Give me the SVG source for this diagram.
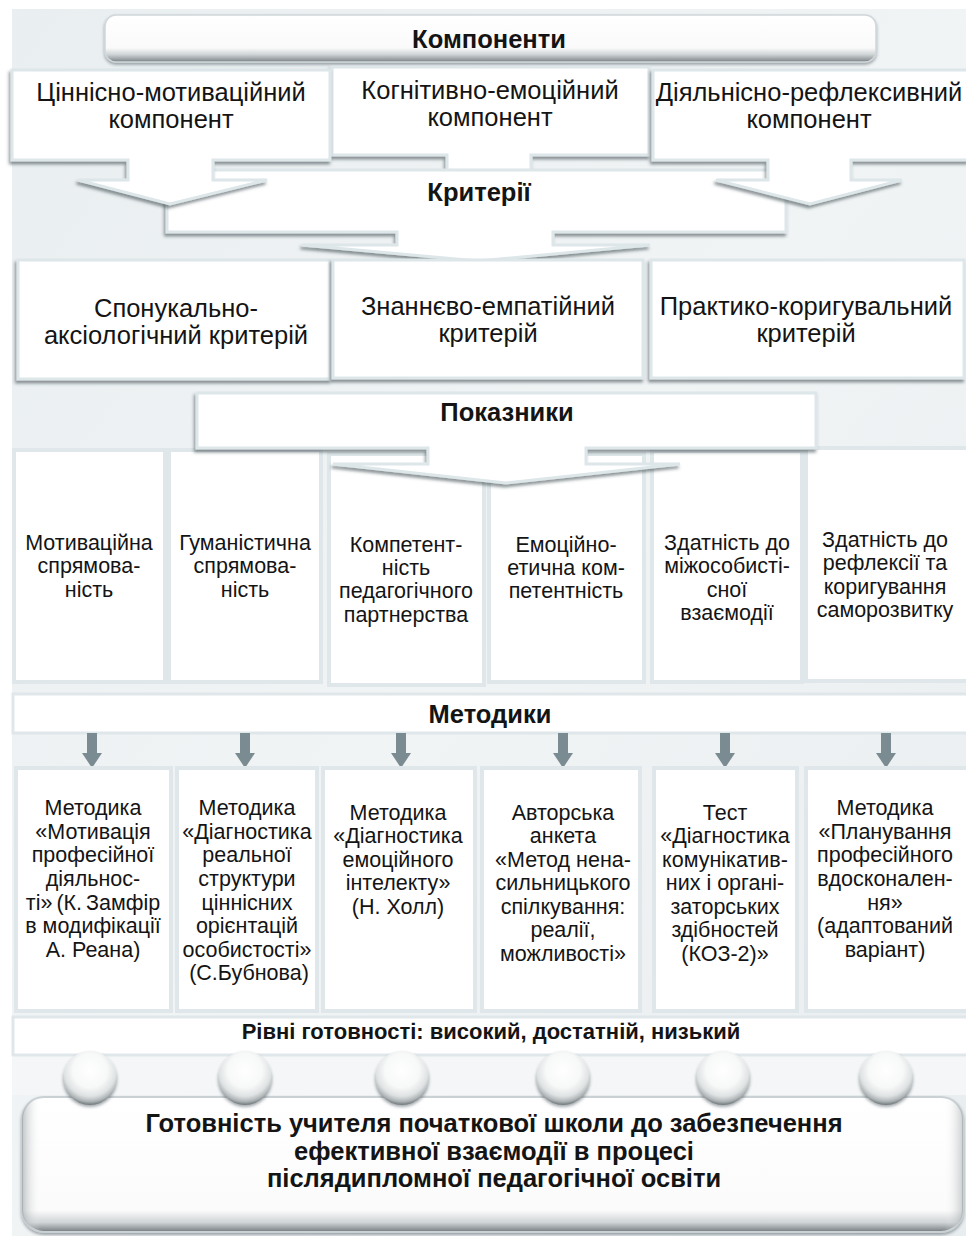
<svg xmlns="http://www.w3.org/2000/svg" width="966" height="1236" viewBox="0 0 966 1236">
<defs>
<linearGradient id="bg" x1="0" y1="0" x2="1" y2="1"><stop offset="0" stop-color="#e9eef0"/><stop offset="0.5" stop-color="#f1f4f5"/><stop offset="1" stop-color="#e8edef"/></linearGradient>
<linearGradient id="bar3d" x1="0" y1="0" x2="0" y2="1"><stop offset="0" stop-color="#ffffff"/><stop offset="0.7" stop-color="#fafafa"/><stop offset="0.84" stop-color="#cfd4d6"/><stop offset="1" stop-color="#7b8285"/></linearGradient>
<linearGradient id="big3d" x1="0" y1="0" x2="0" y2="1"><stop offset="0" stop-color="#ffffff"/><stop offset="0.84" stop-color="#fbfbfb"/><stop offset="0.93" stop-color="#cfd3d5"/><stop offset="1" stop-color="#747b7e"/></linearGradient>
<linearGradient id="bigL" x1="0" y1="0" x2="1" y2="0"><stop offset="0" stop-color="#8d9497" stop-opacity="0.55"/><stop offset="0.02" stop-color="#ffffff" stop-opacity="0"/><stop offset="0.98" stop-color="#ffffff" stop-opacity="0"/><stop offset="1" stop-color="#8d9497" stop-opacity="0.45"/></linearGradient>
<radialGradient id="ball" cx="0.5" cy="0.36" r="0.64"><stop offset="0" stop-color="#ffffff"/><stop offset="0.5" stop-color="#f7f8f8"/><stop offset="0.75" stop-color="#dfe2e3"/><stop offset="0.9" stop-color="#aeb4b6"/><stop offset="1" stop-color="#6f777a"/></radialGradient>
<filter id="sh" x="-10%" y="-10%" width="120%" height="130%"><feDropShadow dx="-1.5" dy="3" stdDeviation="1.6" flood-color="#34434a" flood-opacity="0.55"/></filter>
<filter id="sh2" x="-20%" y="-20%" width="140%" height="150%"><feDropShadow dx="0" dy="2" stdDeviation="1.5" flood-color="#34434a" flood-opacity="0.45"/></filter>
<marker id="ah" viewBox="0 0 15 20" refX="0" refY="10" markerWidth="15" markerHeight="20" markerUnits="userSpaceOnUse" orient="auto"><path d="M0,0 L15,10 L0,20 Z" fill="#7b8b92"/></marker>
</defs>
<style>
.box{fill:#ffffff;stroke:#dde6e9;stroke-width:3;filter:url(#sh)}
.cell{fill:#ffffff;stroke:#dfe7ea;stroke-width:4}
.bar{fill:#ffffff;stroke:#dfe7ea;stroke-width:3}
.t{font-family:"Liberation Sans",Arial,sans-serif;fill:#141414;text-anchor:middle}
.l{font-size:25.5px}
.s{font-size:21.5px}
.h{font-size:25.5px;font-weight:bold}
.conn{stroke:#7b8b92;stroke-width:10;fill:none}
</style>
<rect x="12" y="9" width="954" height="1227" fill="url(#bg)"/>
<rect x="12" y="1055" width="954" height="40" fill="#f4f6f7"/>

<g id="komponenty">
<rect x="105" y="15" width="771" height="47" rx="11" fill="url(#bar3d)" stroke="#cfd7da" stroke-width="1.5" filter="url(#sh2)"/>
<text class="t h" x="489" y="48">Компоненти</text>
</g>

<g id="comp2">
<path class="box" d="M332,67 H649 V155 H531 V175 H447 V155 H332 Z"/>
<text class="t l" x="490" y="99">Когнітивно-емоційний</text>
<text class="t l" x="490" y="126">компонент</text>
</g>

<g id="kryterii">
<path class="box" d="M167,170 H786 V232 H553 V245 H650 L478,261 L302,245 H397 V232 H167 Z"/>
<text class="t h" x="479" y="201">Критерії</text>
</g>

<g id="comp1">
<path class="box" d="M12,70 H330 V160 H213 V180 H267 L170,204 L78,180 H128 V160 H12 Z"/>
<text class="t l" x="171" y="101">Ціннісно-мотиваційний</text>
<text class="t l" x="171" y="128">компонент</text>
</g>

<g id="comp3">
<path class="box" d="M653,70 H968 V160 H851 V180 H902 L810,204 L716,180 H768 V160 H653 Z"/>
<text class="t l" x="809" y="101">Діяльнісно-рефлексивний</text>
<text class="t l" x="809" y="128">компонент</text>
</g>

<g id="crit1">
<rect class="box" x="18" y="260" width="312" height="119"/>
<text class="t l" x="176" y="317">Спонукально-</text>
<text class="t l" x="176" y="344">аксіологічний критерій</text>
</g>
<g id="crit2">
<rect class="box" x="333" y="260" width="310" height="118"/>
<text class="t l" x="488" y="315">Знаннєво-емпатійний</text>
<text class="t l" x="488" y="342">критерій</text>
</g>
<g id="crit3">
<rect class="box" x="651" y="260" width="313" height="118"/>
<text class="t l" x="806" y="315">Практико-коригувальний</text>
<text class="t l" x="806" y="342">критерій</text>
</g>

<g id="ind1">
<rect class="cell" x="14" y="450" width="151" height="232"/>
<text class="t s" x="89" y="550">Мотиваційна</text>
<text class="t s" x="89" y="573">спрямова-</text>
<text class="t s" x="89" y="597">ність</text>
</g>
<g id="ind2">
<rect class="cell" x="169" y="450" width="152" height="232"/>
<text class="t s" x="245" y="550">Гуманістична</text>
<text class="t s" x="245" y="573">спрямова-</text>
<text class="t s" x="245" y="597">ність</text>
</g>
<g id="ind3">
<rect class="cell" x="329" y="454" width="155" height="231"/>
<text class="t s" x="406" y="552">Компетент-</text>
<text class="t s" x="406" y="575">ність</text>
<text class="t s" x="406" y="598">педагогічного</text>
<text class="t s" x="406" y="622">партнерства</text>
</g>
<g id="ind4">
<rect class="cell" x="489" y="454" width="155" height="228"/>
<text class="t s" x="566" y="552">Емоційно-</text>
<text class="t s" x="566" y="575">етична ком-</text>
<text class="t s" x="566" y="598">петентність</text>
</g>
<g id="ind5">
<rect class="cell" x="652" y="451" width="150" height="231"/>
<text class="t s" x="727" y="550">Здатність до</text>
<text class="t s" x="727" y="573">міжособисті-</text>
<text class="t s" x="727" y="597">сної</text>
<text class="t s" x="727" y="620">взаємодії</text>
</g>
<g id="ind6">
<rect class="cell" x="806" y="448" width="162" height="233"/>
<text class="t s" x="885" y="547">Здатність до</text>
<text class="t s" x="885" y="570">рефлексії та</text>
<text class="t s" x="885" y="594">коригування</text>
<text class="t s" x="885" y="617">саморозвитку</text>
</g>

<g id="pokaznyky">
<path class="box" d="M197,393 H816 V448 H586 V464 H680 L506,483 L333,464 H428 V448 H197 Z"/>
<text class="t h" x="507" y="421">Показники</text>
</g>

<g id="metodyky">
<rect class="bar" x="13" y="694" width="955" height="39"/>
<text class="t h" x="490" y="723">Методики</text>
</g>

<g id="connectors">
<line class="conn" x1="92" y1="733" x2="92" y2="753" marker-end="url(#ah)"/>
<line class="conn" x1="245" y1="733" x2="245" y2="753" marker-end="url(#ah)"/>
<line class="conn" x1="401" y1="733" x2="401" y2="753" marker-end="url(#ah)"/>
<line class="conn" x1="563" y1="733" x2="563" y2="753" marker-end="url(#ah)"/>
<line class="conn" x1="725" y1="733" x2="725" y2="753" marker-end="url(#ah)"/>
<line class="conn" x1="886" y1="733" x2="886" y2="753" marker-end="url(#ah)"/>
</g>

<g id="met1">
<rect class="cell" x="16" y="768" width="155" height="243"/>
<text class="t s" x="93" y="815">Методика</text>
<text class="t s" x="93" y="839">«Мотивація</text>
<text class="t s" x="93" y="862">професійної</text>
<text class="t s" x="93" y="886">діяльнос-</text>
<text class="t s" x="93" y="910" style="word-spacing:-2px">ті» (К. Замфір</text>
<text class="t s" x="93" y="933">в модифікації</text>
<text class="t s" x="93" y="957">А. Реана)</text>
</g>
<g id="met2">
<rect class="cell" x="177" y="768" width="140" height="243"/>
<text class="t s" x="247" y="815">Методика</text>
<text class="t s" x="247" y="839">«Діагностика</text>
<text class="t s" x="247" y="862">реальної</text>
<text class="t s" x="247" y="886">структури</text>
<text class="t s" x="247" y="910">ціннісних</text>
<text class="t s" x="247" y="933">орієнтацій</text>
<text class="t s" x="247" y="957">особистості»</text>
<text class="t s" x="249" y="980">(С.Бубнова)</text>
</g>
<g id="met3">
<rect class="cell" x="323" y="768" width="152" height="243"/>
<text class="t s" x="398" y="820">Методика</text>
<text class="t s" x="398" y="843">«Діагностика</text>
<text class="t s" x="398" y="867">емоційного</text>
<text class="t s" x="398" y="890">інтелекту»</text>
<text class="t s" x="398" y="914">(Н. Холл)</text>
</g>
<g id="met4">
<rect class="cell" x="482" y="768" width="158" height="243"/>
<text class="t s" x="563" y="820">Авторська</text>
<text class="t s" x="563" y="843">анкета</text>
<text class="t s" x="563" y="867">«Метод нена-</text>
<text class="t s" x="563" y="890">сильницького</text>
<text class="t s" x="563" y="914">спілкування:</text>
<text class="t s" x="563" y="937">реалії,</text>
<text class="t s" x="563" y="961">можливості»</text>
</g>
<g id="met5">
<rect class="cell" x="654" y="768" width="143" height="243"/>
<text class="t s" x="725" y="820">Тест</text>
<text class="t s" x="725" y="843">«Діагностика</text>
<text class="t s" x="725" y="867">комунікатив-</text>
<text class="t s" x="725" y="890">них і органі-</text>
<text class="t s" x="725" y="914">заторських</text>
<text class="t s" x="725" y="937">здібностей</text>
<text class="t s" x="725" y="961">(КОЗ-2)»</text>
</g>
<g id="met6">
<rect class="cell" x="806" y="768" width="162" height="243"/>
<text class="t s" x="885" y="815">Методика</text>
<text class="t s" x="885" y="839">«Планування</text>
<text class="t s" x="885" y="862">професійного</text>
<text class="t s" x="885" y="886">вдосконален-</text>
<text class="t s" x="885" y="910">ня»</text>
<text class="t s" x="885" y="933">(адаптований</text>
<text class="t s" x="885" y="957">варіант)</text>
</g>

<g id="rivni">
<rect class="bar" x="13" y="1017" width="955" height="38"/>
<text class="t" x="491" y="1039" style="font-size:22px;font-weight:bold">Рівні готовності: високий, достатній, низький</text>
</g>

<g id="gotovnist">
<rect x="22" y="1097" width="941" height="135" rx="22" fill="url(#big3d)" stroke="#c9d1d4" stroke-width="2" filter="url(#sh2)"/>
<rect x="22" y="1097" width="941" height="135" rx="22" fill="url(#bigL)"/>
<text class="t" x="494" y="1132" style="font-size:25.5px;font-weight:bold">Готовність учителя початкової школи до забезпечення</text>
<text class="t" x="494" y="1160" style="font-size:25.5px;font-weight:bold">ефективної взаємодії в процесі</text>
<text class="t" x="494" y="1187" style="font-size:25.5px;font-weight:bold">післядипломної педагогічної освіти</text>
</g>

<g id="levels">
<circle cx="90" cy="1078" r="27" fill="url(#ball)" filter="url(#sh2)"/>
<circle cx="245" cy="1078" r="27" fill="url(#ball)" filter="url(#sh2)"/>
<circle cx="402" cy="1078" r="27" fill="url(#ball)" filter="url(#sh2)"/>
<circle cx="563" cy="1078" r="27" fill="url(#ball)" filter="url(#sh2)"/>
<circle cx="723" cy="1078" r="27" fill="url(#ball)" filter="url(#sh2)"/>
<circle cx="886" cy="1078" r="27" fill="url(#ball)" filter="url(#sh2)"/>
</g>
</svg>
